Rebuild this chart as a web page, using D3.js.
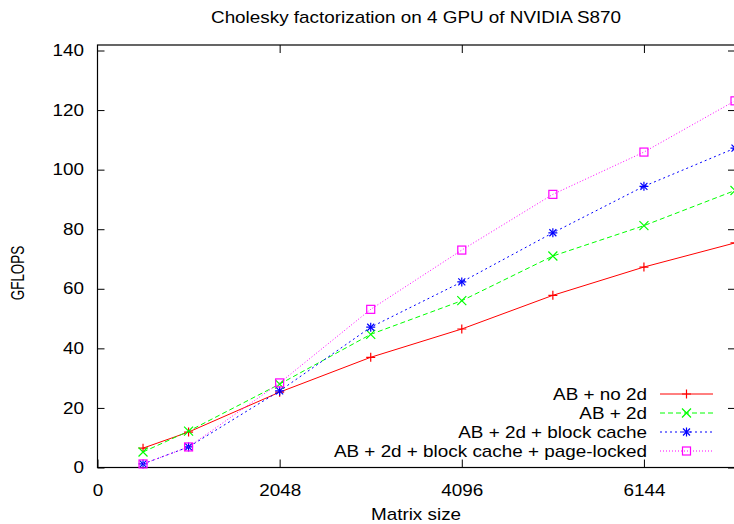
<!DOCTYPE html>
<html>
<head>
<meta charset="utf-8">
<script src="https://cdn.jsdelivr.net/npm/d3@7"></script>
<style>
  html, body { margin: 0; padding: 0; background: #fff; }
  svg { display: block; font-family: "Liberation Sans", Arial, Helvetica, sans-serif; }
</style>
</head>
<body>
<svg id="chart" width="734" height="524"></svg>
<script>
const title = "Cholesky factorization on 4 GPU of NVIDIA S870";
const xLabel = "Matrix size";
const yLabel = "GFLOPS";
const matrixSizes = [512, 1024, 2048, 3072, 4096, 5120, 6144, 7168];
const seriesNames = [
  "AB + no 2d",
  "AB + 2d",
  "AB + 2d + block cache",
  "AB + 2d + block cache + page-locked"
];
const noTwoD      = [6.5, 11.9, 25.3, 37.0, 46.5, 57.8, 67.3, 75.4];
const twoD        = [5.2, 12.2, 28.0, 44.7, 56.0, 71.0, 81.2, 93.0];
const blockCache  = [1.2, 6.9, 25.7, 47.1, 62.3, 78.8, 94.4, 107.2];
const pageLocked  = [1.2, 6.9, 28.4, 53.1, 73.0, 91.7, 105.9, 123.1];
const xTicks = [0, 2048, 4096, 6144];
const yTicks = [0, 20, 40, 60, 80, 100, 120, 140];

const seriesValues = [noTwoD, twoD, blockCache, pageLocked];
const colors = ["#ff0000", "#00ff00", "#0000ff", "#ff00ff"];
const dashes = [null, "5,3", "2,3", "1,2"];
const markers = ["plus", "cross", "star", "square"];

const svg = d3.select("#chart");
const pL = 97.5, pR = 735, pT = 45, pB = 467.5;
const SX = 1.18; // horizontal stretch of the glyphs
const x = d3.scaleLinear().domain([0, 7168]).range([pL, pR]);
const y = d3.scaleLinear().domain([0, 140]).range([pB, 50.5]);

// frame
svg.append("rect").attr("x", pL).attr("y", pT)
  .attr("width", pR - pL).attr("height", pB - pT)
  .attr("fill", "none").attr("stroke", "#000").attr("stroke-width", 1.2);

// axes
const yAxis = d3.axisLeft(y).tickValues(yTicks).tickSize(-7).tickPadding(14).tickFormat(d3.format("d"));
const gy = svg.append("g").attr("transform", `translate(${pL},0)`).call(yAxis);
const yAxisR = d3.axisRight(y).tickValues(yTicks).tickSize(-7).tickFormat("");
const gyr = svg.append("g").attr("transform", `translate(${pR},0)`).call(yAxisR);
const xAxis = d3.axisBottom(x).tickValues(xTicks).tickSize(-8).tickPadding(17).tickFormat(d3.format("d"));
const gx = svg.append("g").attr("transform", `translate(0,${pB})`).call(xAxis);
const xAxisT = d3.axisTop(x).tickValues(xTicks.filter(d => d > 0)).tickSize(-8).tickFormat("");
const gxt = svg.append("g").attr("transform", `translate(0,${pT})`).call(xAxisT);
[gy, gyr, gx, gxt].forEach(g => {
  g.select(".domain").remove();
  g.selectAll(".tick line").attr("stroke", "#000").attr("stroke-width", 1);
  g.selectAll(".tick text").attr("font-size", 16).attr("fill", "#000")
    .attr("font-family", "Liberation Sans, Arial, sans-serif");
});
gy.selectAll(".tick text").attr("x", 0).attr("transform", `translate(-13.5,0) scale(${SX},1)`);
gx.selectAll(".tick text").attr("transform", `scale(${SX},1)`);

function hText(px, py, str, anchor) {
  return svg.append("text").attr("transform", `translate(${px},${py}) scale(${SX},1)`)
    .attr("text-anchor", anchor || "middle").attr("font-size", 16).text(str);
}

// titles
hText(416, 23, title);
hText(416, 520, xLabel);
svg.append("text").attr("transform", `translate(23.5,273) scale(1.35,1) rotate(-90)`)
  .attr("text-anchor", "middle").attr("font-size", 13.5).text(yLabel);

function drawMarker(g, type, cx, cy, color) {
  const s = 4.5;
  if (type === "plus" || type === "star") {
    g.append("path").attr("d", `M${cx - s},${cy}H${cx + s}M${cx},${cy - s}V${cy + s}`)
      .attr("stroke", color).attr("stroke-width", 1.2).attr("fill", "none");
  }
  if (type === "cross" || type === "star") {
    const t = type === "star" ? 3.5 : 4.5;
    g.append("path").attr("d", `M${cx - t},${cy - t}L${cx + t},${cy + t}M${cx - t},${cy + t}L${cx + t},${cy - t}`)
      .attr("stroke", color).attr("stroke-width", 1.2).attr("fill", "none");
  }
  if (type === "square") {
    g.append("rect").attr("x", cx - 4).attr("y", cy - 4).attr("width", 8).attr("height", 8)
      .attr("stroke", color).attr("stroke-width", 1.2).attr("fill", "none");
  }
}

const plot = svg.append("g");
const line = d3.line().x((d, i) => x(matrixSizes[i])).y(d => y(d));
seriesValues.forEach((vals, k) => {
  plot.append("path").datum(vals).attr("d", line)
    .attr("fill", "none").attr("stroke", colors[k]).attr("stroke-width", 1)
    .attr("stroke-dasharray", dashes[k]);
  vals.forEach((v, i) => drawMarker(plot, markers[k], x(matrixSizes[i]), y(v), colors[k]));
});

// legend
const legY = [394, 413, 432, 451];
seriesNames.forEach((name, k) => {
  const ly = legY[k];
  hText(647, ly + 6, name, "end");
  svg.append("line").attr("x1", 660).attr("x2", 713).attr("y1", ly).attr("y2", ly)
    .attr("stroke", colors[k]).attr("stroke-width", 1).attr("stroke-dasharray", dashes[k]);
  drawMarker(svg, markers[k], 686.5, ly, colors[k]);
});
</script>
</body>
</html>
